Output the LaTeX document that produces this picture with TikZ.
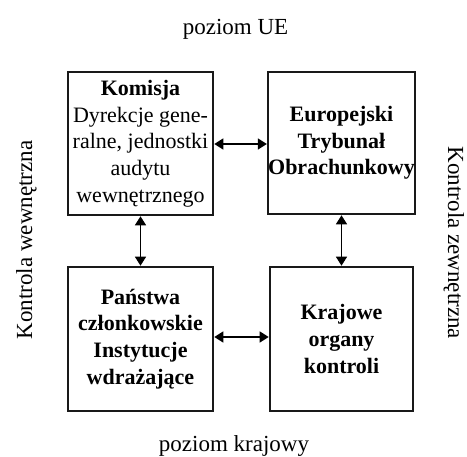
\documentclass[tikz,border=0pt]{standalone}
\usepackage{fontspec}
\setmainfont{Liberation Serif}
\usetikzlibrary{arrows.meta}
\tikzset{
  boxnode/.style={draw=black!90, line width=2.6pt, inner sep=0pt, align=center,
    font=\fontsize{22}{26.7}\selectfont},
  lbl/.style={inner sep=0pt, font=\fontsize{23}{27}\selectfont},
  conn/.style={line width=1.4pt, {Triangle[length=9pt,width=11pt]}-{Triangle[length=9pt,width=11pt]}}
}
\begin{document}
\begin{tikzpicture}[x=1pt,y=-1pt]
\useasboundingbox (0,0) rectangle (467,457);
\node[boxnode, minimum width=145pt, minimum height=143pt] (kom) at (140.5,143.5)
  {\textbf{Komisja}\\Dyrekcje gene-\\ralne, jednostki\\audytu\\wewnętrznego};
\node[boxnode, minimum width=143pt, minimum height=142pt] (etr) at (341.5,143)
  {\textbf{Europejski}\\\textbf{Trybunał}\\\textbf{Obrachunkowy}};
\node[boxnode, minimum width=145pt, minimum height=144pt] (pcz) at (140.5,339)
  {\textbf{Państwa}\\\textbf{członkowskie}\\\textbf{Instytucje}\\\textbf{wdrażające}};
\node[boxnode, minimum width=143pt, minimum height=144pt] (kok) at (341.5,339)
  {\textbf{Krajowe}\\\textbf{organy}\\\textbf{kontroli}};
\draw[conn] (kom.east |- 0,144) -- (etr.west |- 0,144);
\draw[conn] (kom.south) -- (pcz.north);
\draw[conn] (etr.south) -- (kok.north);
\draw[conn] (pcz.east |- 0,337) -- (kok.west |- 0,337);
\node[lbl, anchor=base] (ue) at (235.5,35) {poziom UE};
\node[lbl, anchor=base] (kr) at (234,452) {poziom krajowy};
\node[lbl, anchor=base, rotate=90] (kw) at (32,240) {Kontrola wewnętrzna};
\node[lbl, anchor=base, rotate=-90] (kz) at (448,243) {Kontrola zewnętrzna};
\end{tikzpicture}
\end{document}
